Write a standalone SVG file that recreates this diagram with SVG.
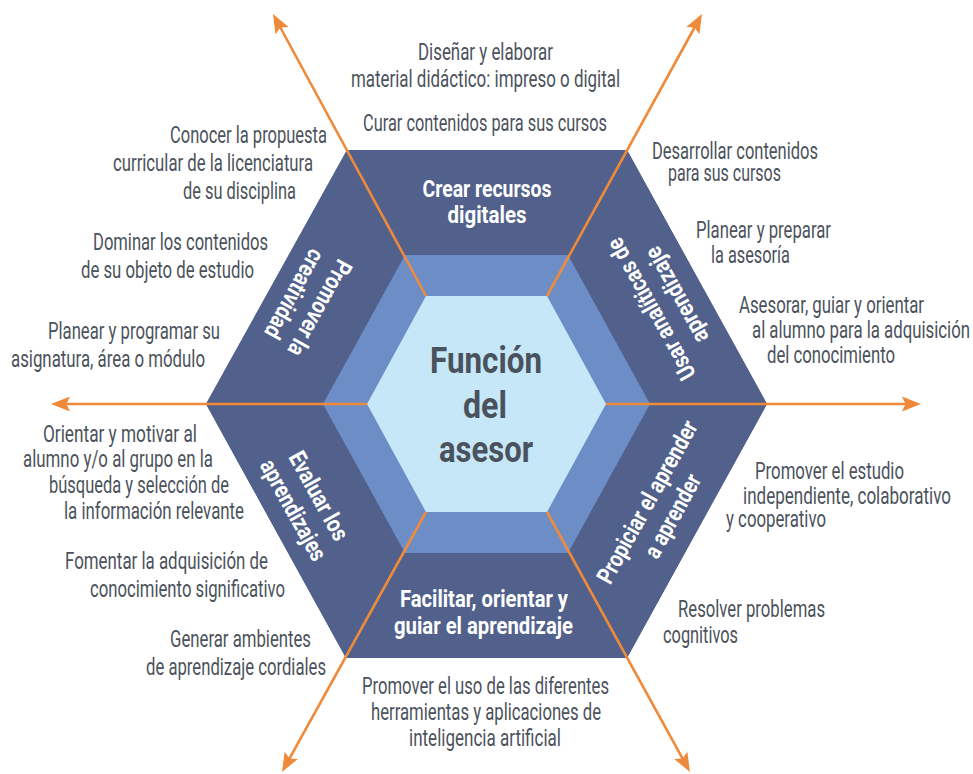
<svg xmlns="http://www.w3.org/2000/svg" width="973" height="774" viewBox="0 0 973 774">
<defs>
<style>
.t{font-family:Roboto,"Liberation Sans",Arial,sans-serif;font-size:23px;fill:#4B525C}
.lb{font-family:Roboto,"Liberation Sans",Arial,sans-serif;font-size:24px;font-weight:bold;fill:#FFFFFF}
.ct{font-family:Roboto,"Liberation Sans",Arial,sans-serif;font-size:37px;font-weight:bold;fill:#4A525D}
.band{fill:#51618B}
.mid{fill:#6D8DC7}
.inner{fill:#C6E7F8}
.conn{stroke:#EF8A3B;stroke-width:2.6;fill:none;marker-end:url(#arrow)}
</style>
<marker id="arrow" markerUnits="userSpaceOnUse" viewBox="0 0 20 16" markerWidth="20" markerHeight="16" refX="11" refY="8" orient="auto">
<path d="M0,0.5 L19,8 L0,15.5 L3.5,8 Z" fill="#EF8A3B"/>
</marker>
</defs>
<rect width="973" height="774" fill="#FFFFFF"/>

<polygon class="band" points="347,150 627,150 767,404 627,658 346,658 206,404"/>

<g id="node-crear">
<polygon class="band" points="347,150 627,150 568,255 405,255"/>
<text class="lb" x="487" y="197" text-anchor="middle" textLength="129" lengthAdjust="spacingAndGlyphs">Crear recursos</text>
<text class="lb" x="487" y="223" text-anchor="middle" textLength="79" lengthAdjust="spacingAndGlyphs">digitales</text>
</g>

<g id="node-usar">
<polygon class="band" points="627,150 767,404 650,404 568,255"/>
<text class="lb" transform="translate(664,302) rotate(-119)" x="0" y="-6.5" text-anchor="middle" textLength="158" lengthAdjust="spacingAndGlyphs">Usar analíticas de</text>
<text class="lb" transform="translate(664,302) rotate(-119)" x="0" y="22.5" text-anchor="middle" textLength="106" lengthAdjust="spacingAndGlyphs">aprendizaje</text>
</g>

<g id="node-propiciar">
<polygon class="band" points="767,404 627,658 568,553 650,404"/>
<text class="lb" transform="translate(660,509) rotate(-61)" x="0" y="-6.5" text-anchor="middle" textLength="182" lengthAdjust="spacingAndGlyphs">Propiciar el aprender</text>
<text class="lb" transform="translate(660,509) rotate(-61)" x="0" y="22.5" text-anchor="middle" textLength="92" lengthAdjust="spacingAndGlyphs">a aprender</text>
</g>

<g id="node-facilitar">
<polygon class="band" points="627,658 346,658 405,553 568,553"/>
<text class="lb" x="484" y="607" text-anchor="middle" textLength="168" lengthAdjust="spacingAndGlyphs">Facilitar, orientar y</text>
<text class="lb" x="483.5" y="634" text-anchor="middle" textLength="179" lengthAdjust="spacingAndGlyphs">guiar el aprendizaje</text>
</g>

<g id="node-evaluar">
<polygon class="band" points="346,658 206,404 323,404 405,553"/>
<text class="lb" transform="translate(306,503) rotate(61)" x="0" y="-6.5" text-anchor="middle" textLength="98" lengthAdjust="spacingAndGlyphs">Evaluar los</text>
<text class="lb" transform="translate(306,503) rotate(61)" x="0" y="22.5" text-anchor="middle" textLength="112" lengthAdjust="spacingAndGlyphs">aprendizajes</text>
</g>

<g id="node-promover">
<polygon class="band" points="206,404 347,150 405,255 323,404"/>
<text class="lb" transform="translate(307,301) rotate(119)" x="0" y="-6.5" text-anchor="middle" textLength="106" lengthAdjust="spacingAndGlyphs">Promover la</text>
<text class="lb" transform="translate(307,301) rotate(119)" x="0" y="22.5" text-anchor="middle" textLength="98" lengthAdjust="spacingAndGlyphs">creatividad</text>
</g>

<g id="node-center">
<polygon class="mid" points="405,255 568,255 650,404 568,553 405,553 323,404"/>
<polygon class="inner" points="426,296 547,296 606,404 547,512 426,512 367,404"/>
<text class="ct" x="486" y="373" text-anchor="middle" textLength="112" lengthAdjust="spacingAndGlyphs">Función</text>
<text class="ct" x="485" y="418" text-anchor="middle" textLength="44" lengthAdjust="spacingAndGlyphs">del</text>
<text class="ct" x="486" y="462" text-anchor="middle" textLength="94" lengthAdjust="spacingAndGlyphs">asesor</text>
</g>

<g id="connectors">
<line class="conn" x1="426" y1="296" x2="276.8" y2="21"/>
<line class="conn" x1="547" y1="296" x2="698.1" y2="21"/>
<line class="conn" x1="367" y1="404" x2="59" y2="404"/>
<line class="conn" x1="606" y1="404" x2="913" y2="404"/>
<line class="conn" x1="426" y1="512" x2="285.9" y2="765"/>
<line class="conn" x1="547" y1="512" x2="686.1" y2="765"/>
</g>

<g id="notes-crear">
<text class="t" x="418" y="60" textLength="135" lengthAdjust="spacingAndGlyphs">Diseñar y elaborar</text>
<text class="t" x="351" y="87" textLength="269" lengthAdjust="spacingAndGlyphs">material didáctico: impreso o digital</text>
<text class="t" x="363" y="131" textLength="244" lengthAdjust="spacingAndGlyphs">Curar contenidos para sus cursos</text>
</g>

<g id="notes-promover">
<text class="t" x="170" y="143" textLength="157" lengthAdjust="spacingAndGlyphs">Conocer la propuesta</text>
<text class="t" x="113" y="171" textLength="200" lengthAdjust="spacingAndGlyphs">curricular de la licenciatura</text>
<text class="t" x="183" y="199" textLength="113" lengthAdjust="spacingAndGlyphs">de su disciplina</text>
<text class="t" x="93" y="250" textLength="175" lengthAdjust="spacingAndGlyphs">Dominar los contenidos</text>
<text class="t" x="81" y="278" textLength="173" lengthAdjust="spacingAndGlyphs">de su objeto de estudio</text>
<text class="t" x="48" y="339" textLength="172" lengthAdjust="spacingAndGlyphs">Planear y programar su</text>
<text class="t" x="11" y="367" textLength="194" lengthAdjust="spacingAndGlyphs">asignatura, área o módulo</text>
</g>

<g id="notes-usar">
<text class="t" x="652" y="159" textLength="166" lengthAdjust="spacingAndGlyphs">Desarrollar contenidos</text>
<text class="t" x="668" y="181" textLength="113" lengthAdjust="spacingAndGlyphs">para sus cursos</text>
<text class="t" x="696" y="238" textLength="135" lengthAdjust="spacingAndGlyphs">Planear y preparar</text>
<text class="t" x="711" y="263" textLength="79" lengthAdjust="spacingAndGlyphs">la asesoría</text>
<text class="t" x="739" y="313" textLength="185" lengthAdjust="spacingAndGlyphs">Asesorar, guiar y orientar</text>
<text class="t" x="752" y="338" textLength="218" lengthAdjust="spacingAndGlyphs">al alumno para la adquisición</text>
<text class="t" x="767" y="363" textLength="128" lengthAdjust="spacingAndGlyphs">del conocimiento</text>
</g>

<g id="notes-evaluar">
<text class="t" x="43" y="442" textLength="154" lengthAdjust="spacingAndGlyphs">Orientar y motivar al</text>
<text class="t" x="23" y="467" textLength="190" lengthAdjust="spacingAndGlyphs">alumno y/o al grupo en la</text>
<text class="t" x="49" y="493" textLength="180" lengthAdjust="spacingAndGlyphs">búsqueda y selección de</text>
<text class="t" x="64" y="519" textLength="180" lengthAdjust="spacingAndGlyphs">la información relevante</text>
<text class="t" x="65" y="569" textLength="203" lengthAdjust="spacingAndGlyphs">Fomentar la adquisición de</text>
<text class="t" x="90" y="597" textLength="195" lengthAdjust="spacingAndGlyphs">conocimiento significativo</text>
<text class="t" x="170" y="647" textLength="141" lengthAdjust="spacingAndGlyphs">Generar ambientes</text>
<text class="t" x="146" y="675" textLength="180" lengthAdjust="spacingAndGlyphs">de aprendizaje cordiales</text>
</g>

<g id="notes-propiciar">
<text class="t" x="755" y="479" textLength="149" lengthAdjust="spacingAndGlyphs">Promover el estudio</text>
<text class="t" x="743" y="504" textLength="208" lengthAdjust="spacingAndGlyphs">independiente, colaborativo</text>
<text class="t" x="726" y="527" textLength="100" lengthAdjust="spacingAndGlyphs">y cooperativo</text>
<text class="t" x="678" y="617" textLength="147" lengthAdjust="spacingAndGlyphs">Resolver problemas</text>
<text class="t" x="663" y="643" textLength="75" lengthAdjust="spacingAndGlyphs">cognitivos</text>
</g>

<g id="notes-facilitar">
<text class="t" x="362" y="694" textLength="247" lengthAdjust="spacingAndGlyphs">Promover el uso de las diferentes</text>
<text class="t" x="371" y="720" textLength="230" lengthAdjust="spacingAndGlyphs">herramientas y aplicaciones de</text>
<text class="t" x="409" y="746" textLength="152" lengthAdjust="spacingAndGlyphs">inteligencia artificial</text>
</g>
</svg>
